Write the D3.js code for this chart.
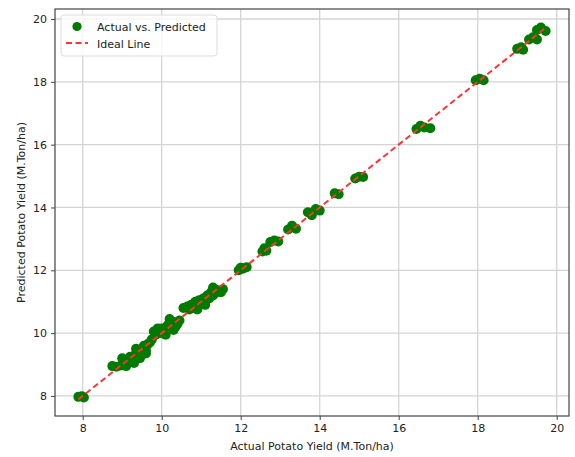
<!DOCTYPE html>
<html>
<head>
<meta charset="utf-8">
<script src="https://cdn.jsdelivr.net/npm/d3@7"></script>
<style>
  body { margin: 0; background: #fff; }
  text { font-family: "DejaVu Sans", sans-serif; fill: #222; }
</style>
</head>
<body>
<svg width="575" height="457"></svg>
<script>
// actual vs predicted potato yield (M.Ton/ha)
var actual = [7.89, 8.03, 7.98,
  8.75, 8.85, 8.97,
  9.0, 9.05, 9.1, 9.15, 9.2, 9.25, 9.3, 9.35, 9.4, 9.45, 9.5, 9.55, 9.6, 9.65, 9.7, 9.75,
  9.1, 9.3, 9.45, 9.6, 9.35,
  9.8, 9.85, 9.9, 9.95, 10.0, 10.05, 10.1, 10.15, 10.2, 10.25, 10.3, 10.35, 10.4, 10.45,
  9.9, 10.1, 10.3, 10.2,
  10.55, 10.65, 10.7,
  10.75, 10.8, 10.85, 10.9, 10.95, 11.0, 11.05, 11.1, 11.15, 11.2, 11.25, 11.3, 11.35, 11.4, 11.45, 11.55,
  10.9, 11.1, 11.3, 11.5,
  11.95, 12.0, 12.05, 12.15,
  12.55, 12.6, 12.65, 12.75, 12.85, 12.95,
  13.2, 13.3, 13.4,
  13.7, 13.8, 13.9, 14.0,
  14.38, 14.48,
  14.9, 15.0, 15.1,
  16.45, 16.55, 16.65, 16.8,
  17.95, 18.05, 18.15,
  19.0, 19.1, 19.15,
  19.3, 19.4, 19.5,
  19.5, 19.6, 19.72];
var predicted = [7.97, 7.95, 7.99,
  8.95, 8.93, 8.97,
  9.2, 8.98, 9.1, 9.05, 9.25, 9.15, 9.2, 9.35, 9.4, 9.3, 9.5, 9.6, 9.45, 9.65, 9.7, 9.8,
  8.95, 9.05, 9.2, 9.35, 9.5,
  10.05, 9.95, 10.1, 10.0, 10.15, 10.05, 10.1, 10.25, 10.3, 10.2, 10.35, 10.2, 10.3, 10.4,
  10.15, 9.95, 10.1, 10.45,
  10.8, 10.85, 10.75,
  10.9, 10.8, 11.0, 10.85, 11.05, 10.95, 11.1, 11.0, 11.2, 11.1, 11.3, 11.2, 11.4, 11.3, 11.35, 11.4,
  10.75, 10.9, 11.45, 11.3,
  12.0, 12.08, 12.05, 12.1,
  12.6, 12.7, 12.62, 12.9, 12.95, 12.92,
  13.3, 13.42, 13.32,
  13.85, 13.75, 13.95, 13.9,
  14.45, 14.42,
  14.92, 14.98, 14.97,
  16.5, 16.6, 16.55, 16.52,
  18.05, 18.1, 18.05,
  19.05, 19.1, 19.02,
  19.35, 19.42, 19.35,
  19.65, 19.73, 19.62];

var xTicks = [8, 10, 12, 14, 16, 18, 20];
var yTicks = [8, 10, 12, 14, 16, 18, 20];
var legendLabels = ["Actual vs. Predicted", "Ideal Line"];

var svg = d3.select("svg");
var margin = {left: 55, top: 9, right: 6, bottom: 41};
var width = 575 - margin.left - margin.right,
    height = 457 - margin.top - margin.bottom;

var g = svg.append("g").attr("transform", "translate(" + margin.left + "," + margin.top + ")");

var lo = d3.min(actual.concat(predicted)), hi = d3.max(actual.concat(predicted));

function padded(v) {
    var e = d3.extent(v), p = (e[1] - e[0]) * 0.05;
    return [e[0] - p, e[1] + p];
}
var x = d3.scaleLinear().domain(padded(actual)).range([0, width]);
var y = d3.scaleLinear().domain(padded(predicted)).range([height, 0]);

// grid
g.append("g").selectAll("line").data(xTicks).enter().append("line")
    .attr("x1", d => x(d)).attr("x2", d => x(d))
    .attr("y1", 0).attr("y2", height)
    .attr("stroke", "#d4d4d4").attr("stroke-width", 1.3);
g.append("g").selectAll("line").data(yTicks).enter().append("line")
    .attr("y1", d => y(d)).attr("y2", d => y(d))
    .attr("x1", 0).attr("x2", width)
    .attr("stroke", "#d4d4d4").attr("stroke-width", 1.3);

// points
g.append("g").selectAll("circle").data(actual).enter().append("circle")
    .attr("cx", d => x(d))
    .attr("cy", (d, i) => y(predicted[i]))
    .attr("r", 5)
    .attr("fill", "#007a00");

// ideal line
g.append("line")
    .attr("x1", x(lo)).attr("y1", y(lo))
    .attr("x2", x(hi)).attr("y2", y(hi))
    .attr("stroke", "#ff3333").attr("stroke-width", 2)
    .attr("stroke-dasharray", "6,3.5");

// axes
var xAxis = g.append("g").attr("transform", "translate(0," + height + ")")
    .call(d3.axisBottom(x).tickValues(xTicks).tickSize(4).tickPadding(4));
var yAxis = g.append("g")
    .call(d3.axisLeft(y).tickValues(yTicks).tickSize(4).tickPadding(4));
[xAxis, yAxis].forEach(function(a) {
    a.select(".domain").remove();
    a.selectAll("line").attr("stroke", "#444");
    a.selectAll("text").style("font-size", "11px").attr("fill", "#222");
});

g.append("rect").attr("width", width).attr("height", height)
    .attr("fill", "none").attr("stroke", "#444").attr("stroke-width", 1.2);

// labels
svg.append("text")
    .attr("x", margin.left + width / 2).attr("y", 450)
    .attr("text-anchor", "middle").style("font-size", "11px")
    .text("Actual Potato Yield (M.Ton/ha)");
svg.append("text")
    .attr("transform", "translate(25," + (margin.top + height / 2) + ") rotate(-90)")
    .attr("text-anchor", "middle").style("font-size", "11px")
    .text("Predicted Potato Yield (M.Ton/ha)");

// legend
var lg = svg.append("g");
lg.append("rect").attr("x", 61).attr("y", 15).attr("width", 156).attr("height", 41)
    .attr("rx", 3).attr("fill", "#fff").attr("fill-opacity", 0.8)
    .attr("stroke", "#ddd");
lg.append("circle").attr("cx", 77).attr("cy", 26.5).attr("r", 4.6).attr("fill", "#007a00");
lg.append("line").attr("x1", 66).attr("x2", 88).attr("y1", 43).attr("y2", 43)
    .attr("stroke", "#ff3333").attr("stroke-width", 2).attr("stroke-dasharray", "6,3.5");
lg.selectAll("text.lbl").data(legendLabels).enter().append("text")
    .attr("class", "lbl")
    .attr("x", 97).attr("y", (d, i) => 30.5 + i * 17)
    .style("font-size", "11px")
    .text(d => d);
</script>
</body>
</html>
